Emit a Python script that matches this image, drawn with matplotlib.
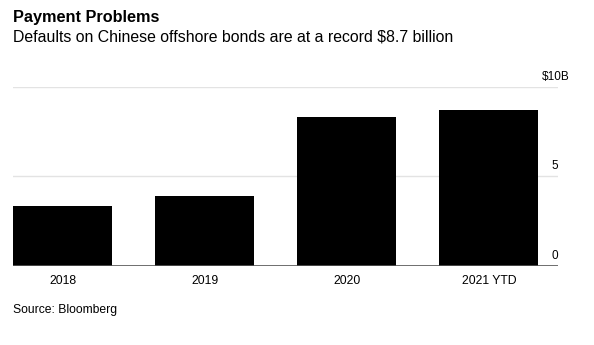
import matplotlib
matplotlib.use("Agg")
import matplotlib.pyplot as plt
import matplotlib.transforms as mtransforms

plt.rcParams['font.family'] = ['Liberation Sans', 'DejaVu Sans']

# data
years = ["2018", "2019", "2020", "2021 YTD"]
defaults = [3.3, 3.9, 8.3, 8.7]   # $ billion
yticks = [0, 5, 10]
ylabels = ["0", "5", "$10B"]

W, H = 594, 345
fig = plt.figure(figsize=(W / 100, H / 100), dpi=100)
ax = fig.add_axes([13 / W, 1 - 265.5 / H, (558 - 13) / W, (265.5 - 86.7) / H])

x = list(range(len(years)))
ax.bar(x, defaults, width=0.697, color="black", zorder=3)

ax.set_xlim(-0.3505, 3.486)
ax.set_ylim(0, 10)

for t in yticks:
    if t == 0:
        ax.axhline(t, color="#555555", lw=1.2, zorder=4)
    else:
        ax.axhline(t, color="#e3e3e3", lw=1.0, zorder=1)

# y labels sit above their gridlines, on the right
off = mtransforms.offset_copy(ax.get_yaxis_transform(), fig=fig, x=0, y=5, units="points")
for t, lab in zip(yticks, ylabels):
    xr = 1.0 if lab[-1].isdigit() else 1.022
    ax.text(xr, t, lab, transform=off, ha="right", va="baseline", fontsize=8.5, color="black")

ax.set_xticks(x)
ax.set_xticklabels(years, fontsize=8.8)
ax.tick_params(axis="x", length=0, pad=7)
ax.set_yticks([])
for s in ax.spines.values():
    s.set_visible(False)

fig.text(13 / W, 1 - 22.3 / H, "Payment Problems", fontsize=11.7, fontweight="bold", va="baseline")
fig.text(13 / W, 1 - 41.7 / H, "Defaults on Chinese offshore bonds are at a record $8.7 billion",
         fontsize=11.4, va="baseline")
fig.text(13 / W, 1 - 313.3 / H, "Source: Bloomberg", fontsize=8.7, va="baseline")

fig.savefig("out.png", dpi=100)
